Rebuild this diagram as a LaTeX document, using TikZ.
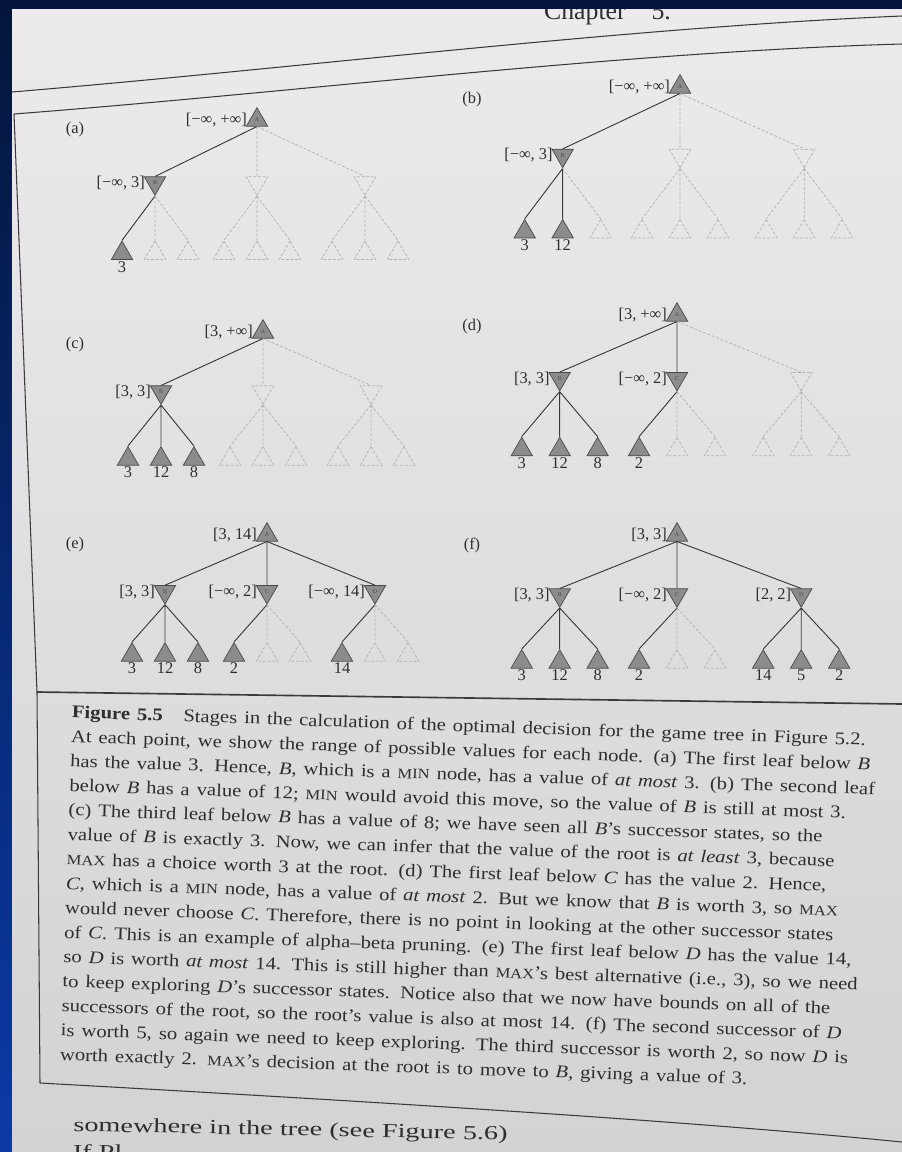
\documentclass[tikz,border=0pt]{standalone}
\usepackage{fontspec}
\setmainfont{Liberation Serif}
\usepackage{tikz}
\usetikzlibrary{shapes.geometric}
\definecolor{navy}{HTML}{03153A}
\definecolor{royal}{HTML}{0B3AA6}
\definecolor{pagetop}{HTML}{ECEAED}
\definecolor{pagebot}{HTML}{D3D2D5}
\definecolor{ink}{HTML}{2E2E30}
\definecolor{rule}{HTML}{3A3A3C}
\definecolor{nodefill}{HTML}{8D8B8E}
\definecolor{nodeline}{HTML}{4A494C}
\definecolor{ghost}{HTML}{B3B1B5}
\newcommand{\SC}[1]{{\fontsize{12.2}{12.2}\selectfont #1}}
\newcommand{\capline}[1]{\noindent\hbox to \hsize{#1}\par}
\newcommand{\lastline}[1]{\noindent\hbox to \hsize{#1\hfil}\par}
\tikzset{
  maxnode/.style={regular polygon,regular polygon sides=3,minimum size=0.74cm,inner sep=0pt,
    draw=nodeline,fill=nodefill,line width=0.6pt,text=nodeline,font=\fontsize{5}{5}\selectfont,
    label distance=4pt},
  minnode/.style={maxnode,shape border rotate=180},
  leafnode/.style={maxnode},
  ghostleaf/.style={maxnode,draw=ghost,fill=none,dash pattern=on 2.5pt off 1.5pt},
  ghostmin/.style={ghostleaf,shape border rotate=180},
  edge/.style={draw=rule,line width=0.8pt},
  ghostedge/.style={draw=ghost,line width=0.6pt,dash pattern=on 2.5pt off 1.5pt},
  bound/.style={font=\fontsize{14}{16}\selectfont,text=ink,inner sep=1pt,xshift=-1pt},
  leafval/.style={font=\fontsize{14}{16}\selectfont,text=ink,inner sep=1pt},
  tag/.style={font=\fontsize{14}{16}\selectfont,text=ink},
  pagerule/.style={draw=rule,line width=0.9pt},
  prose/.style={font=\fontsize{15.2}{20.9}\selectfont,text=ink,inner sep=0pt,transform shape}
}

\begin{document}
\begin{tikzpicture}[x=0.03cm,y=-0.03cm]
  \useasboundingbox (0,0) rectangle (902,1152);
  \shade[top color=navy,bottom color=royal] (0,0) rectangle (902,1152);
  \shade[top color=pagetop,bottom color=pagebot] (12,10) rectangle (902,1152);
  \begin{scope}
    \clip (12,10) rectangle (902,1152);
    \node[font=\fontsize{22}{24}\selectfont,text=ink,anchor=base west] (chap) at (540,20) {Chapter\quad 5.};
    \draw[pagerule] (12,92) .. controls (300,68) and (620,28) .. (902,16);
    \draw[pagerule] (14,114) .. controls (300,92) and (620,52) .. (902,44);
    \draw[pagerule] (14,114) -- (37,692) -- (40,1083);
    \draw[pagerule,line width=1.4pt] (37,692) -- (902,704);
    \draw[pagerule] (40,1083) .. controls (400,1103) and (700,1122) .. (902,1142);

    \node[tag] (ta) at (75,130) {(a)};
    \node[tag] (tb) at (472,100) {(b)};
    \node[tag] (tc) at (75,345) {(c)};
    \node[tag] (td) at (472,327) {(d)};
    \node[tag] (te) at (75,545) {(e)};
    \node[tag] (tf) at (472,545) {(f)};

    % (a)
    \begin{scope}[shift={(257,120)},yscale=1.05]
      \node[maxnode,label={[bound]left:{[−∞, +∞]}}] (aA) at (0,0) {A};
      \node[minnode,label={[bound]left:{[−∞, 3]}}] (aB) at (-102,60) {B};
      \node[ghostmin] (aC) at (0,60) {};
      \node[ghostmin] (aD) at (108,60) {};
      \foreach \n/\x/\v in {1/-135/3}
        \node[leafnode,label={[leafval]below:\v}] (a\n) at (\x,127) {};
      \foreach \n/\x in {2/-102,3/-69,4/-33,5/0,6/33,7/75,8/108,9/141}
        \node[ghostleaf] (a\n) at (\x,127) {};
      \draw[edge] (aA.south) -- (aB.north) (aB.south) -- (a1.north);
      \draw[ghostedge] (aA.south) -- (aC.north) (aA.south) -- (aD.north)
        (aB.south) -- (a2.north) (aB.south) -- (a3.north)
        (aC.south) -- (a4.north) (aC.south) -- (a5.north) (aC.south) -- (a6.north)
        (aD.south) -- (a7.north) (aD.south) -- (a8.north) (aD.south) -- (a9.north);
    \end{scope}

    % (b)
    \begin{scope}[shift={(680,87)},xscale=1.15,yscale=1.14]
      \node[maxnode,label={[bound]left:{[−∞, +∞]}}] (bA) at (0,0) {A};
      \node[minnode,label={[bound]left:{[−∞, 3]}}] (bB) at (-102,60) {B};
      \node[ghostmin] (bC) at (0,60) {};
      \node[ghostmin] (bD) at (108,60) {};
      \foreach \n/\x/\v in {1/-135/3,2/-102/12}
        \node[leafnode,label={[leafval]below:\v}] (b\n) at (\x,127) {};
      \foreach \n/\x in {3/-69,4/-33,5/0,6/33,7/75,8/108,9/141}
        \node[ghostleaf] (b\n) at (\x,127) {};
      \draw[edge] (bA.south) -- (bB.north) (bB.south) -- (b1.north) (bB.south) -- (b2.north);
      \draw[ghostedge] (bA.south) -- (bC.north) (bA.south) -- (bD.north)
        (bB.south) -- (b3.north)
        (bC.south) -- (b4.north) (bC.south) -- (b5.north) (bC.south) -- (b6.north)
        (bD.south) -- (b7.north) (bD.south) -- (b8.north) (bD.south) -- (b9.north);
    \end{scope}

    % (c)
    \begin{scope}[shift={(263,332)}]
      \node[maxnode,label={[bound]left:{[3, +∞]}}] (cA) at (0,0) {A};
      \node[minnode,label={[bound]left:{[3, 3]}}] (cB) at (-102,60) {B};
      \node[ghostmin] (cC) at (0,60) {};
      \node[ghostmin] (cD) at (108,60) {};
      \foreach \n/\x/\v in {1/-135/3,2/-102/12,3/-69/8}
        \node[leafnode,label={[leafval]below:\v}] (c\n) at (\x,127) {};
      \foreach \n/\x in {4/-33,5/0,6/33,7/75,8/108,9/141}
        \node[ghostleaf] (c\n) at (\x,127) {};
      \draw[edge] (cA.south) -- (cB.north) (cB.south) -- (c1.north)
        (cB.south) -- (c2.north) (cB.south) -- (c3.north);
      \draw[ghostedge] (cA.south) -- (cC.north) (cA.south) -- (cD.north)
        (cC.south) -- (c4.north) (cC.south) -- (c5.north) (cC.south) -- (c6.north)
        (cD.south) -- (c7.north) (cD.south) -- (c8.north) (cD.south) -- (c9.north);
    \end{scope}

    % (d)
    \begin{scope}[shift={(677,315)},xscale=1.15,yscale=1.06]
      \node[maxnode,label={[bound]left:{[3, +∞]}}] (dA) at (0,0) {A};
      \node[minnode,label={[bound]left:{[3, 3]}}] (dB) at (-102,60) {B};
      \node[minnode,label={[bound]left:{[−∞, 2]}}] (dC) at (0,60) {C};
      \node[ghostmin] (dD) at (108,60) {};
      \foreach \n/\x/\v in {1/-135/3,2/-102/12,3/-69/8,4/-33/2}
        \node[leafnode,label={[leafval]below:\v}] (d\n) at (\x,127) {};
      \foreach \n/\x in {5/0,6/33,7/75,8/108,9/141}
        \node[ghostleaf] (d\n) at (\x,127) {};
      \draw[edge] (dA.south) -- (dB.north) (dA.south) -- (dC.north)
        (dB.south) -- (d1.north) (dB.south) -- (d2.north) (dB.south) -- (d3.north)
        (dC.south) -- (d4.north);
      \draw[ghostedge] (dA.south) -- (dD.north)
        (dC.south) -- (d5.north) (dC.south) -- (d6.north)
        (dD.south) -- (d7.north) (dD.south) -- (d8.north) (dD.south) -- (d9.north);
    \end{scope}

    % (e)
    \begin{scope}[shift={(267,535)},yscale=0.945]
      \node[maxnode,label={[bound]left:{[3, 14]}}] (eA) at (0,0) {A};
      \node[minnode,label={[bound]left:{[3, 3]}}] (eB) at (-102,60) {B};
      \node[minnode,label={[bound]left:{[−∞, 2]}}] (eC) at (0,60) {C};
      \node[minnode,label={[bound]left:{[−∞, 14]}}] (eD) at (108,60) {D};
      \foreach \n/\x/\v in {1/-135/3,2/-102/12,3/-69/8,4/-33/2,7/75/14}
        \node[leafnode,label={[leafval]below:\v}] (e\n) at (\x,127) {};
      \foreach \n/\x in {5/0,6/33,8/108,9/141}
        \node[ghostleaf] (e\n) at (\x,127) {};
      \draw[edge] (eA.south) -- (eB.north) (eA.south) -- (eC.north) (eA.south) -- (eD.north)
        (eB.south) -- (e1.north) (eB.south) -- (e2.north) (eB.south) -- (e3.north)
        (eC.south) -- (e4.north) (eD.south) -- (e7.north);
      \draw[ghostedge] (eC.south) -- (e5.north) (eC.south) -- (e6.north)
        (eD.south) -- (e8.north) (eD.south) -- (e9.north);
    \end{scope}

    % (f)
    \begin{scope}[shift={(677,535)},xscale=1.15]
      \node[maxnode,label={[bound]left:{[3, 3]}}] (fA) at (0,0) {A};
      \node[minnode,label={[bound]left:{[3, 3]}}] (fB) at (-102,60) {B};
      \node[minnode,label={[bound]left:{[−∞, 2]}}] (fC) at (0,60) {C};
      \node[minnode,label={[bound]left:{[2, 2]}}] (fD) at (108,60) {D};
      \foreach \n/\x/\v in {1/-135/3,2/-102/12,3/-69/8,4/-33/2,7/75/14,8/108/5,9/141/2}
        \node[leafnode,label={[leafval]below:\v}] (f\n) at (\x,127) {};
      \foreach \n/\x in {5/0,6/33}
        \node[ghostleaf] (f\n) at (\x,127) {};
      \draw[edge] (fA.south) -- (fB.north) (fA.south) -- (fC.north) (fA.south) -- (fD.north)
        (fB.south) -- (f1.north) (fB.south) -- (f2.north) (fB.south) -- (f3.north)
        (fC.south) -- (f4.north)
        (fD.south) -- (f7.north) (fD.south) -- (f8.north) (fD.south) -- (f9.north);
      \draw[ghostedge] (fC.south) -- (f5.north) (fC.south) -- (f6.north);
    \end{scope}

    % caption
    \begin{scope}[shift={(72,705)},rotate=-2,xscale=1.16]
      \node[prose,anchor=north west,text width=21cm] (cap) at (0,0) {%
        \capline{\textbf{Figure 5.5}\quad Stages in the calculation of the optimal decision for the game tree in Figure 5.2.}
        \capline{At each point, we show the range of possible values for each node. (a) The first leaf below \textit{B}}
        \capline{has the value 3. Hence, \textit{B}, which is a \SC{MIN} node, has a value of \textit{at most} 3. (b) The second leaf}
        \capline{below \textit{B} has a value of 12; \SC{MIN} would avoid this move, so the value of \textit{B} is still at most 3.}
        \capline{(c) The third leaf below \textit{B} has a value of 8; we have seen all \textit{B}’s successor states, so the}
        \capline{value of \textit{B} is exactly 3. Now, we can infer that the value of the root is \textit{at least} 3, because}
        \capline{\SC{MAX} has a choice worth 3 at the root. (d) The first leaf below \textit{C} has the value 2. Hence,}
        \capline{\textit{C}, which is a \SC{MIN} node, has a value of \textit{at most} 2. But we know that \textit{B} is worth 3, so \SC{MAX}}
        \capline{would never choose \textit{C}. Therefore, there is no point in looking at the other successor states}
        \capline{of \textit{C}. This is an example of alpha–beta pruning. (e) The first leaf below \textit{D} has the value 14,}
        \capline{so \textit{D} is worth \textit{at most} 14. This is still higher than \SC{MAX}’s best alternative (i.e., 3), so we need}
        \capline{to keep exploring \textit{D}’s successor states. Notice also that we now have bounds on all of the}
        \capline{successors of the root, so the root’s value is also at most 14. (f) The second successor of \textit{D}}
        \capline{is worth 5, so again we need to keep exploring. The third successor is worth 2, so now \textit{D} is}
        \lastline{worth exactly 2. \SC{MAX}’s decision at the root is to move to \textit{B}, giving a value of 3.}};
    \end{scope}
    \begin{scope}[shift={(73,1131)},rotate=-1.2,xscale=1.42]
      \node[prose,font=\fontsize{17}{20}\selectfont,anchor=base west] (body) at (0,0) {somewhere in the tree (see Figure 5.6)};
      \node[prose,font=\fontsize{17}{20}\selectfont,anchor=base west] (next) at (0,27) {If Pl};
    \end{scope}
  \end{scope}
\end{tikzpicture}
\end{document}
